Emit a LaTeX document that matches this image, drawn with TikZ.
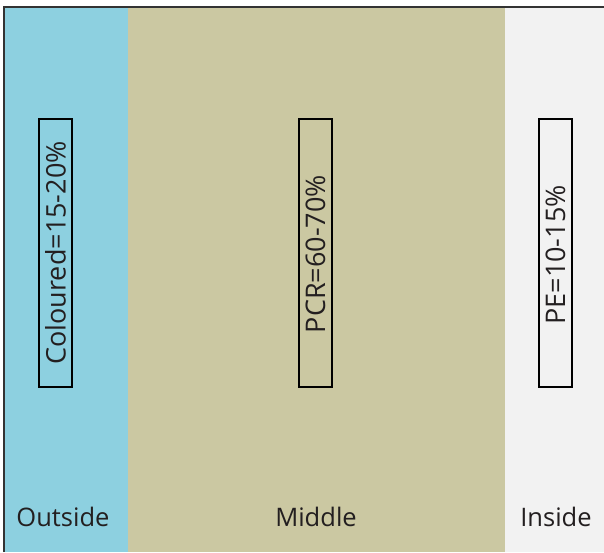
\documentclass[tikz,border=0pt]{standalone}
\usepackage{fontspec}
\setmainfont{Open Sans}
\definecolor{outerc}{HTML}{8DD0E0}
\definecolor{midc}{HTML}{CBC8A2}
\definecolor{innerc}{HTML}{F2F2F2}
\definecolor{framec}{HTML}{333333}
\definecolor{inkc}{HTML}{231F20}
\begin{document}
\begin{tikzpicture}[x=1pt,y=-1pt,
  valbox/.style={draw=black,line width=1.3pt,minimum width=33pt,minimum height=268pt,inner sep=0pt},
  valtext/.style={rotate=90,font=\fontsize{27}{27}\selectfont,text=inkc},
  zonelabel/.style={font=\fontsize{25.5}{25.5}\selectfont,text=inkc}]
\useasboundingbox (0,0) rectangle (604,552);
\fill[outerc] (5,8) rectangle (128,552);
\fill[midc] (128,8) rectangle (505,552);
\fill[innerc] (505,8) rectangle (604,552);
\draw[framec,line width=2pt] (4,552) -- (4,7) -- (604,7);
\node[valbox] (b1) at (55.5,253) {};
\node[valbox] (b2) at (315.5,253) {};
\node[valbox] (b3) at (555.5,253) {};
\node[valtext] (t1) at (b1.center) {Coloured=15-20\%};
\node[valtext] (t2) at ([yshift=-1pt]b2.center) {PCR=60-70\%};
\node[valtext] (t3) at ([yshift=-2pt]b3.center) {PE=10-15\%};
\node[zonelabel] (l1) at (63,517) {Outside};
\node[zonelabel] (l2) at (316,517) {Middle};
\node[zonelabel] (l3) at (556,517) {Inside};
\end{tikzpicture}
\end{document}
